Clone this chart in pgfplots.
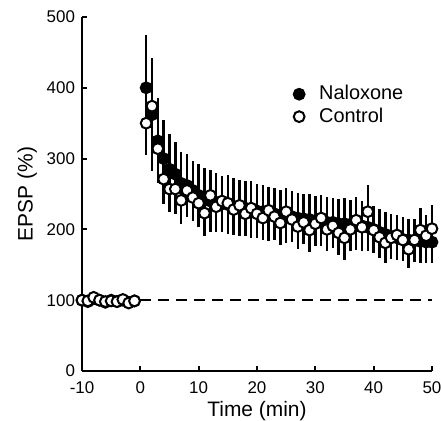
\documentclass[border=0pt]{standalone}
\usepackage{fontspec}
\setmainfont{Liberation Sans}
\usepackage{pgfplots}
\pgfplotsset{compat=1.18}
\usepackage{pgfplotstable}

\pgfplotstableread{
t   y   e
-10 100 4
-9  98  4
-8  102 4
-7  100 4
-6  97  4
-5  100 4
-4  98  4
-3  100 4
-2  97  4
-1  99  4
1   400 75
2   362 80
3   325 60
4   300 55
5   285 50
6   278 46
7   265 45
8   262 44
9   255 42
10  248 44
11  245 42
12  240 44
13  238 42
14  236 40
15  235 42
16  232 40
17  230 40
18  230 38
19  228 40
20  226 38
21  225 37
22  222 38
23  222 37
24  220 36
25  218 37
26  218 36
27  216 36
28  215 35
29  214 36
30  212 35
31  212 35
32  210 36
33  210 35
34  208 35
35  208 36
36  207 35
37  205 34
38  205 35
39  203 34
40  200 33
41  196 33
42  193 32
43  190 32
44  188 31
45  186 31
46  185 30
47  184 30
48  183 30
49  182 29
50  182 29
}\naloxone

\pgfplotstableread{
t   y   e
-10 100 4
-9  99  4
-8  104 4
-7  100 4
-6  98  4
-5  99  4
-4  98  4
-3  101 4
-2  96  4
-1  99  4
1   350 45
2   374 42
3   314 38
4   271 35
5   257 33
6   257 35
7   241 33
8   255 33
9   245 33
10  237 33
11  223 33
12  248 35
13  232 33
14  240 33
15  237 33
16  228 33
17  234 33
18  222 31
19  230 33
20  222 31
21  216 31
22  227 33
23  218 31
24  209 31
25  225 33
26  214 31
27  204 31
28  210 31
29  199 31
30  208 31
31  216 33
32  200 31
33  205 31
34  195 31
35  188 31
36  200 31
37  213 33
38  203 31
39  225 38
40  199 31
41  189 29
42  181 29
43  188 29
44  192 29
45  185 29
46  172 27
47  185 29
48  199 31
49  191 29
50  201 33
}\control

\begin{document}
\begin{tikzpicture}
\begin{axis}[
  scale only axis,
  width=175bp, height=177bp,
  xmin=-10, xmax=50, ymin=0, ymax=500,
  axis x line=bottom, axis y line=left,
  axis line style={-, line width=1bp},
  xtick={-10,0,...,50}, ytick={0,100,...,500},
  tick align=inside, major tick length=2.5bp,
  tick style={line width=1bp, black},
  /pgf/number format/assume math mode=true,
  ticklabel style={font=\fontsize{8.5}{10}\selectfont},
  xticklabel style={yshift=-2bp},
  xlabel={Time (min)}, ylabel={EPSP (\%)},
  label style={font=\fontsize{10.5}{12}\selectfont},
  xlabel style={yshift=3bp},
  ylabel style={yshift=-2bp},
  clip=false,
  legend style={at={(rel axis cs:0.595,0.816)}, anchor=north west, draw=none, fill=none,
    font=\fontsize{10}{12}\selectfont, row sep=-0.5bp, inner sep=0pt,
    nodes={inner sep=1.5bp}},
  legend cell align=left,
  legend image code/.code={\path[draw=none, fill=none] (0,0) -- (0.45cm,0); \draw[#1] plot coordinates {(0.15cm,0cm)};},
]
\coordinate (ll) at (rel axis cs:0,0);
\coordinate (ur) at (rel axis cs:1,1);
\draw[line width=1.2bp, dash pattern=on 5.5bp off 3.5bp] (axis cs:0,100) -- (axis cs:50,100);
\addplot[only marks, mark=*, mark size=2.7bp, black, line width=1bp,
  mark options={fill=black},
  error bars/.cd, y dir=both, y explicit, error bar style={line width=1.2bp, black}, error mark=none]
  table[x=t, y=y, y error=e] {\naloxone};
\addlegendentry{Naloxone}
\addplot[only marks, mark=*, mark size=2.7bp, black, line width=1bp,
  mark options={fill=white},
  error bars/.cd, y dir=both, y explicit, error bar style={line width=1.2bp, black}, error mark=none]
  table[x=t, y=y, y error=e] {\control};
\addlegendentry{Control}
\end{axis}
\pgfresetboundingbox
\path[use as bounding box] ([shift={(-41bp,-25bp)}]ll) rectangle ([shift={(4.5bp,8.5bp)}]ur);
\end{tikzpicture}
\end{document}
